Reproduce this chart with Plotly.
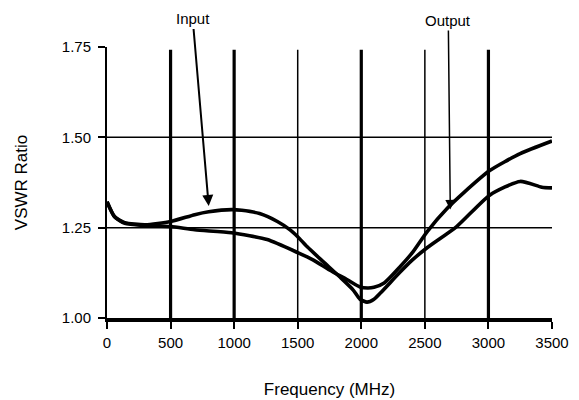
import plotly.graph_objects as go

# ---- data ----
freq_in = [0, 60, 140, 300, 500, 690, 800, 980, 1060, 1200, 1340, 1440, 1500, 1575,
           1700, 1830, 1935, 1990, 2045, 2100, 2150, 2300, 2400, 2520, 2750, 3010,
           3250, 3420, 3500]
vswr_in = [1.322, 1.28, 1.264, 1.258, 1.267, 1.286, 1.294, 1.300, 1.298, 1.289, 1.267,
           1.244, 1.225, 1.197, 1.156, 1.114, 1.078, 1.052, 1.044, 1.052, 1.069, 1.125,
           1.160, 1.195, 1.253, 1.340, 1.378, 1.362, 1.360]

freq_out = [0, 60, 140, 300, 500, 690, 980, 1260, 1500, 1620, 1750, 1890, 1990, 2050,
            2100, 2180, 2300, 2400, 2520, 2680, 2800, 3010, 3250, 3500]
vswr_out = [1.322, 1.28, 1.262, 1.256, 1.253, 1.244, 1.236, 1.217, 1.181, 1.161, 1.133,
            1.106, 1.086, 1.083, 1.085, 1.097, 1.140, 1.180, 1.240, 1.305, 1.345, 1.408,
            1.455, 1.490]

x_ticks = [0, 500, 1000, 1500, 2000, 2500, 3000, 3500]
x_tick_labels = ["0", "500", "1000", "1500", "2000", "2500", "3000", "3500"]
y_ticks = [1.00, 1.25, 1.50, 1.75]
y_tick_labels = ["1.00", "1.25", "1.50", "1.75"]

thick_vgrid = [500, 1000, 2000, 3000]
thin_vgrid = [1500, 2500]
hgrid = [1.25, 1.50]

input_label = ("Input", 800, 1.31)
output_label = ("Output", 2700, 1.30)

FONT = "Liberation Sans, Arial, sans-serif"

fig = go.Figure()

fig.add_trace(go.Scatter(x=freq_in, y=vswr_in, mode="lines", name="Input",
                         line=dict(color="black", width=3.6, shape="spline", smoothing=0.6)))
fig.add_trace(go.Scatter(x=freq_out, y=vswr_out, mode="lines", name="Output",
                         line=dict(color="black", width=3.6, shape="spline", smoothing=0.6)))

shapes = []
for xv in thick_vgrid:
    shapes.append(dict(type="line", xref="x", yref="paper", x0=xv, x1=xv, y0=0, y1=0.99,
                       line=dict(color="black", width=3.2), layer="below"))
for xv in thin_vgrid:
    shapes.append(dict(type="line", xref="x", yref="paper", x0=xv, x1=xv, y0=0, y1=0.99,
                       line=dict(color="black", width=1.5), layer="below"))
for yv in hgrid:
    shapes.append(dict(type="line", xref="paper", yref="y", x0=0, x1=1, y0=yv, y1=yv,
                       line=dict(color="black", width=1.5), layer="below"))

annotations = [
    dict(text=input_label[0], x=input_label[1], y=input_label[2], xref="x", yref="y",
         ax=-16, ay=-187, showarrow=True, arrowhead=2, arrowsize=1.1, arrowwidth=2,
         arrowcolor="black", font=dict(family=FONT, size=15, color="black")),
    dict(text=output_label[0], x=output_label[1], y=output_label[2], xref="x", yref="y",
         ax=-2, ay=-189, showarrow=True, arrowhead=2, arrowsize=1.3, arrowwidth=1.5,
         arrowcolor="black", font=dict(family=FONT, size=15, color="black")),
]

fig.update_layout(
    width=579, height=400,
    margin=dict(l=99, r=35, t=39, b=90),
    paper_bgcolor="white", plot_bgcolor="white",
    showlegend=False,
    shapes=shapes, annotations=annotations,
    font=dict(family=FONT, size=15, color="black"),
    xaxis=dict(range=[0, 3500], tickvals=x_ticks, ticktext=x_tick_labels,
               showgrid=False, zeroline=False, showline=True, linecolor="black",
               linewidth=4, ticks="outside", ticklen=7, tickwidth=2, tickcolor="black",
               ticklabelstandoff=1,
               title=dict(text="Frequency (MHz)", font=dict(size=17), standoff=34),
               tickfont=dict(size=15)),
    yaxis=dict(range=[1.0, 1.75], tickvals=y_ticks, ticktext=y_tick_labels,
               showgrid=False, zeroline=False, showline=True, linecolor="black",
               linewidth=2, ticks="outside", ticklen=7, tickwidth=2, tickcolor="black",
               ticklabelstandoff=4,
               title=dict(text="VSWR Ratio", font=dict(size=17), standoff=30),
               tickfont=dict(size=15)),
)

fig.write_html("out.html")
